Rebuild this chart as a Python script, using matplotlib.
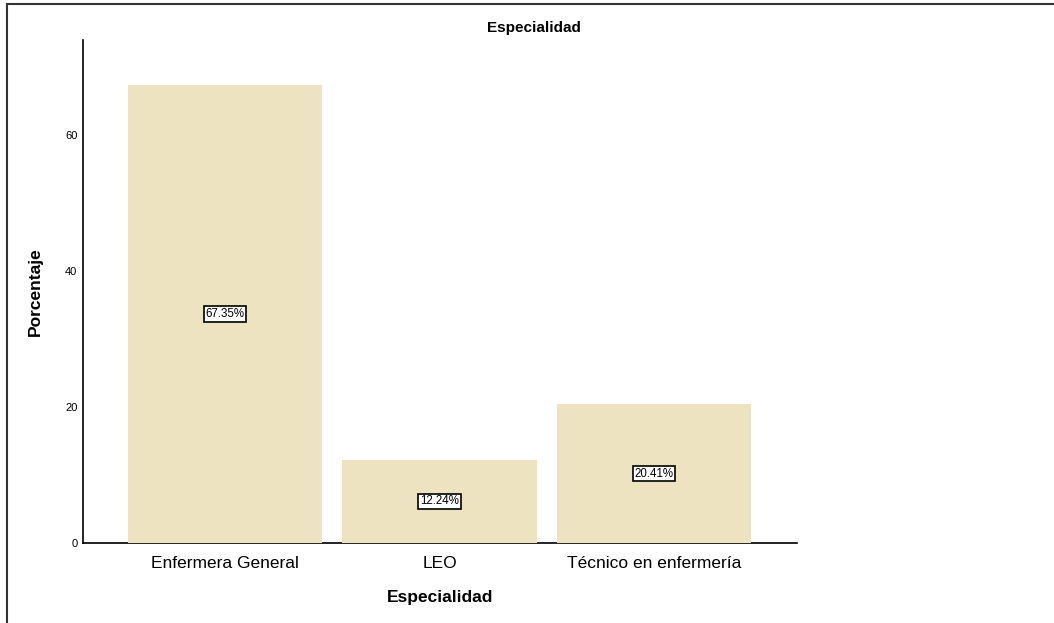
import matplotlib.pyplot as plt
from matplotlib.lines import Line2D

plt.rcParams['font.family'] = ['Liberation Sans', 'DejaVu Sans']

# data
categorias = ['Enfermera General', 'LEO', 'Técnico en enfermería']
porcentajes = [67.35, 12.24, 20.41]
etiquetas = ['67.35%', '12.24%', '20.41%']
y_ticks = [0, 20, 40, 60]

bar_color = '#EDE3C1'

fig = plt.figure(figsize=(10.54, 6.23), dpi=100)
ax = fig.add_axes([0.0787, 0.1284, 0.6775, 0.8074])

pos = list(range(len(categorias)))
ax.bar(pos, porcentajes, width=0.905, color=bar_color, zorder=3)

# value labels in small boxes at the middle of each bar
for x, v, lab in zip(pos, porcentajes, etiquetas):
    ax.text(x, v / 2, lab, ha='center', va='center', fontsize=8.3, zorder=4,
            bbox=dict(boxstyle='square,pad=0.15', facecolor='white',
                      edgecolor='black', linewidth=1.2))

ax.set_xlim(-0.662, 2.667)
ax.set_ylim(0, 74)
ax.set_xticks(pos)
ax.set_xticklabels(categorias, fontsize=12.5)
ax.set_yticks(y_ticks)
ax.set_yticklabels([str(t) for t in y_ticks], fontsize=8)
ax.tick_params(axis='both', length=0)
ax.tick_params(axis='y', pad=4)
ax.tick_params(axis='x', pad=9)

for s in ['top', 'right']:
    ax.spines[s].set_visible(False)
for s in ['left', 'bottom']:
    ax.spines[s].set_linewidth(1.2)
    ax.spines[s].set_zorder(2)

ax.set_xlabel('Especialidad', fontsize=12.5, fontweight='bold', labelpad=14)
ax.set_ylabel('Porcentaje', fontsize=12.5, fontweight='bold', labelpad=16)

fig.text(534 / 1054, 1 - 28 / 623, 'Especialidad', ha='center', va='center',
         fontsize=11, fontweight='bold')

# frame lines on left and top of the figure
fig.add_artist(Line2D([7 / 1054, 7 / 1054], [0, 1 - 4 / 623], color='#333333',
                      linewidth=1.5, transform=fig.transFigure))
fig.add_artist(Line2D([7 / 1054, 1], [1 - 4 / 623, 1 - 4 / 623], color='#333333',
                      linewidth=1.5, transform=fig.transFigure))

fig.savefig('out.png', dpi=100)
